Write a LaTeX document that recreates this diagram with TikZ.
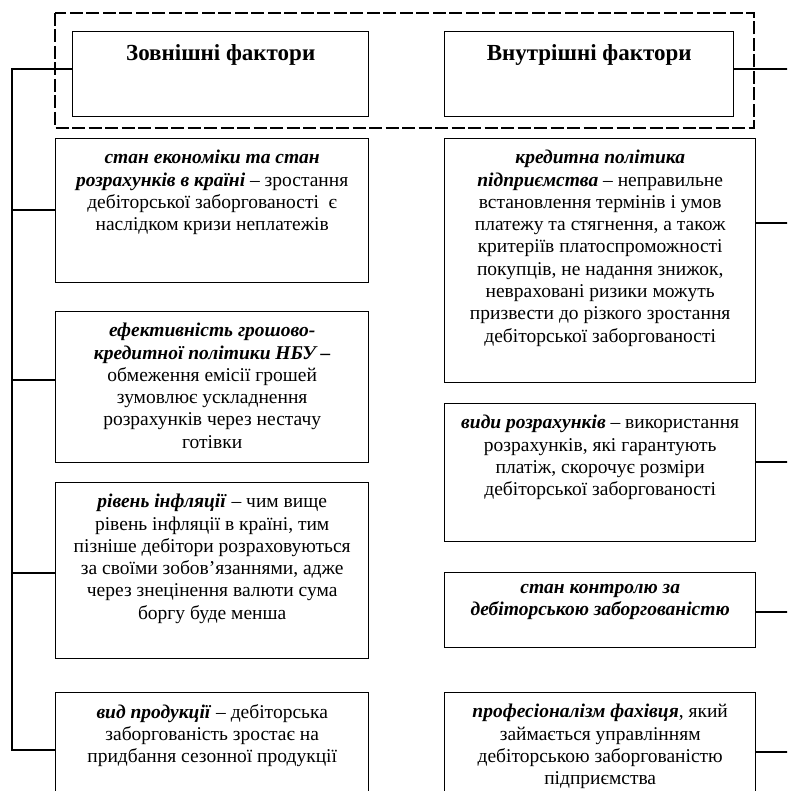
\documentclass[tikz,border=0pt]{standalone}
\usepackage{fontspec}
\setmainfont{Liberation Serif}
\usetikzlibrary{calc}
\tikzset{
  frame/.style={draw=black, line width=1.4pt, inner sep=0pt, anchor=north west},
  group/.style={draw=black, line width=1.2pt, dash pattern=on 13pt off 3.5pt},
  body/.style={anchor=north, align=center, inner sep=0pt, font=\fontsize{19.5}{22.3}\selectfont},
  head/.style={anchor=north, align=center, inner sep=0pt, font=\fontsize{23}{26}\selectfont\bfseries},
  link/.style={draw=black, line width=1.2pt},
}
\newcommand\kw[1]{\textbf{\textit{#1}}}
\begin{document}
\begin{tikzpicture}[x=1pt,y=-1pt]
\clip (0,0) rectangle (787,791);
\useasboundingbox (0,0) rectangle (787,791);

% dashed frame round the two headings
\draw[group] (55,13) rectangle (754,128);

% headings
\node[frame, minimum width=296, minimum height=85] (hl) at (72,31) {};
\node[frame, minimum width=289, minimum height=85] (hr) at (444,31) {};
\node[head] (hlt) at ($(hl.north)+(0,13)$) {Зовнішні фактори};
\node[head] (hrt) at ($(hr.north)+(0,13)$) {Внутрішні фактори};

% external factors
\node[frame, minimum width=313, minimum height=144] (l1) at (55,138) {};
\node[frame, minimum width=313, minimum height=151] (l2) at (55,311) {};
\node[frame, minimum width=313, minimum height=176] (l3) at (55,482) {};
\node[frame, minimum width=313, minimum height=140] (l4) at (55,692) {};

\node[body] (l1t) at ($(l1.north)+(0,12)$) {\kw{стан економіки та стан}\\
  \kw{розрахунків в країні} – зростання\\
  дебіторської заборгованості \ є\\
  наслідком кризи неплатежів};
\node[body] (l2t) at ($(l2.north)+(0,12)$) {\kw{ефективність грошово-}\\
  \kw{кредитної політики НБУ –}\\
  обмеження емісії грошей\\
  зумовлює ускладнення\\
  розрахунків через нестачу\\
  готівки};
\node[body] (l3t) at ($(l3.north)+(0,12)$) {\kw{рівень інфляції} – чим вище\\
  рівень інфляції в країні, тим\\
  пізніше дебітори розраховуються\\
  за своїми зобов’язаннями, адже\\
  через знецінення валюти сума\\
  боргу буде менша};
\node[body] (l4t) at ($(l4.north)+(0,12)$) {\kw{вид продукції} – дебіторська\\
  заборгованість зростає на\\
  придбання сезонної продукції};

% internal factors
\node[frame, minimum width=311, minimum height=244] (r1) at (444,138) {};
\node[frame, minimum width=311, minimum height=138] (r2) at (444,403) {};
\node[frame, minimum width=311, minimum height=75] (r3) at (444,572) {};
\node[frame, minimum width=311, minimum height=140] (r4) at (444,692) {};

\node[body] (r1t) at ($(r1.north)+(0,12)$) {\kw{кредитна політика}\\
  \kw{підприємства} – неправильне\\
  встановлення термінів і умов\\
  платежу та стягнення, а також\\
  критеріїв платоспроможності\\
  покупців, не надання знижок,\\
  невраховані ризики можуть\\
  призвести до різкого зростання\\
  дебіторської заборгованості};
\node[body] (r2t) at ($(r2.north)+(0,12)$) {\kw{види розрахунків} – використання\\
  розрахунків, які гарантують\\
  платіж, скорочує розміри\\
  дебіторської заборгованості};
\node[body] (r3t) at ($(r3.north)+(0,12)$) {\kw{стан контролю за}\\
  \kw{дебіторською заборгованістю}};
\node[body] (r4t) at ($(r4.north)+(0,12)$) {\kw{професіоналізм фахівця}, який\\
  займається управлінням\\
  дебіторською заборгованістю\\
  підприємства};

% left spine
\coordinate (ltop) at (12,69);
\coordinate (lbot) at (12,750);
\draw[link] (hl.north west |- ltop) -- (ltop) -- (lbot) -- (l4.north west |- lbot);
\draw[link] ($(l1.north west)+(0,72)$) -- ($(l1.north west -| ltop)+(0,72)$);
\draw[link] ($(l2.north west)+(0,69)$) -- ($(l2.north west -| ltop)+(0,69)$);
\draw[link] ($(l3.north west)+(0,91)$) -- ($(l3.north west -| ltop)+(0,91)$);

% right branches, running off towards the right spine
\coordinate (rx) at (790,69);
\draw[link] (hr.north east |- rx) -- (rx);
\draw[link] ($(r1.north east)+(0,85)$) -- ($(r1.north east -| rx)+(0,85)$);
\draw[link] ($(r2.north east)+(0,59)$) -- ($(r2.north east -| rx)+(0,59)$);
\draw[link] ($(r3.north east)+(0,40)$) -- ($(r3.north east -| rx)+(0,40)$);
\draw[link] ($(r4.north east)+(0,60)$) -- ($(r4.north east -| rx)+(0,60)$);
\end{tikzpicture}
\end{document}
